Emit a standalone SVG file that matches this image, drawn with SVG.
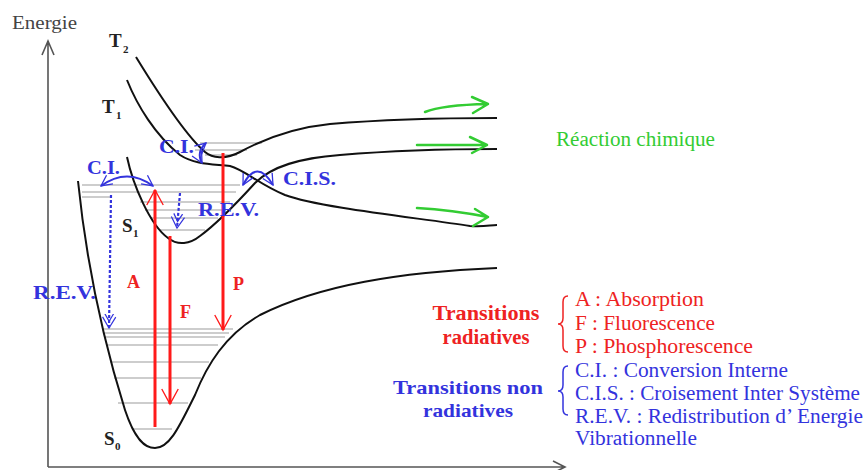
<svg xmlns="http://www.w3.org/2000/svg" width="868" height="470" viewBox="0 0 868 470">
<style>
.axis{fill:none;stroke:#555;stroke-width:1.6}
.curve{fill:none;stroke:#111;stroke-width:2}
.lvl{stroke:#bdbdbd;stroke-width:1.5}
.red{fill:none;stroke:#ff1a1a;stroke-width:3}
.blue{fill:none;stroke:#3333dd;stroke-width:2}
.bdash{fill:none;stroke:#3333dd;stroke-width:2.2;stroke-dasharray:3 2}
.green{fill:none;stroke:#33cc33;stroke-width:2.5;stroke-linecap:round;stroke-linejoin:round}
.t{font-family:"Liberation Serif","Times New Roman",serif}
.st{font-family:"Liberation Serif","Times New Roman",serif;font-weight:bold;fill:#222}
.rl{font-family:"Liberation Serif","Times New Roman",serif;font-weight:bold;fill:#ee2222}
.bl{font-family:"Liberation Serif","Times New Roman",serif;font-weight:bold;fill:#3333dd}
.rt{font-family:"Liberation Serif","Times New Roman",serif;fill:#ee2222;font-size:20px}
.btx{font-family:"Liberation Serif","Times New Roman",serif;fill:#3333dd;font-size:20px}
</style>
<defs>
<marker id="rh" viewBox="0 0 12 12" refX="11" refY="6" markerWidth="6" markerHeight="6" orient="auto" markerUnits="strokeWidth"><path d="M1,0.5 L11,6 L1,11.5" fill="none" stroke="#ff1a1a" stroke-width="0.9"/></marker>
<marker id="bh" viewBox="0 0 12 12" refX="11" refY="6" markerWidth="6.5" markerHeight="6.5" orient="auto-start-reverse" markerUnits="strokeWidth"><path d="M1,1 L11,6 L1,11" fill="none" stroke="#3333dd" stroke-width="1.2"/></marker>
<marker id="bdh" viewBox="0 0 14 14" refX="13" refY="7" markerWidth="7" markerHeight="7" orient="auto" markerUnits="strokeWidth"><path d="M3,1 L13,7 L3,13 M0,3 L7,7 L0,11" fill="none" stroke="#3333dd" stroke-width="1.1"/></marker>
</defs>

<g id="axes">
<path class="axis" d="M48,467 L48,41 M42,55 L48,41 L54,55"/>
<path class="axis" d="M48,467 L565,467 M553,461 L565,467 L553,473"/>
<text class="t" x="12" y="29" font-size="18" fill="#444" textLength="65" lengthAdjust="spacingAndGlyphs">Energie</text>
</g>

<g id="levels">
<line class="lvl" x1="103" y1="329" x2="233" y2="329"/>
<line class="lvl" x1="104" y1="333" x2="229" y2="333"/>
<line class="lvl" x1="105" y1="337" x2="225" y2="337"/>
<line class="lvl" x1="107" y1="345" x2="218" y2="345"/>
<line class="lvl" x1="110" y1="362" x2="209" y2="362"/>
<line class="lvl" x1="114" y1="378" x2="201" y2="378"/>
<line class="lvl" x1="118" y1="403" x2="188" y2="403"/>
<line class="lvl" x1="133" y1="429" x2="172" y2="429"/>
<line class="lvl" x1="82" y1="185" x2="240" y2="185"/>
<line class="lvl" x1="82" y1="192" x2="236" y2="192"/>
<line class="lvl" x1="82" y1="197" x2="112" y2="197"/>
<line class="lvl" x1="140" y1="202" x2="230" y2="202"/>
<line class="lvl" x1="145" y1="210" x2="225" y2="210"/>
<line class="lvl" x1="150" y1="218" x2="218" y2="218"/>
<line class="lvl" x1="160" y1="230" x2="205" y2="230"/>
<line class="lvl" x1="200" y1="143" x2="262" y2="143"/>
<line class="lvl" x1="195" y1="150" x2="247" y2="150"/>
<line class="lvl" x1="205" y1="155" x2="237" y2="155"/>
</g>

<g id="S0">
<path class="curve" d="M78,181 C85,250 100,330 125,410 C135,440 145,448 155,448 C170,448 180,425 195,395 C207,365 225,335 260,315 C320,285 400,272 497,268"/>
<text class="st" x="104" y="445" font-size="19">S</text><text class="st" x="115" y="450" font-size="11">0</text>
</g>
<g id="S1">
<path class="curve" d="M127,157 C133,185 150,225 168,238 C178,246 190,244 200,236 C215,225 235,205 255,183 C272,166 300,158 340,155 C400,150 450,149 497,149"/>
<text class="st" x="122" y="232" font-size="19">S</text><text class="st" x="133" y="237" font-size="11">1</text>
</g>
<g id="T1">
<path class="curve" d="M127,80 C137,105 155,135 180,155 C195,165 215,164 230,166 C245,170 260,185 285,195 C320,208 420,218 470,226 C485,227 490,225 497,225"/>
<text class="st" x="102" y="113" font-size="19">T</text><text class="st" x="116" y="119" font-size="11">1</text>
</g>
<g id="T2">
<path class="curve" d="M136,57 C155,88 185,135 205,152 C212,158 225,160 240,152 C262,140 290,128 330,124 C390,119 440,118 497,118"/>
<text class="st" x="109" y="47" font-size="19">T</text><text class="st" x="123" y="53" font-size="11">2</text>
</g>

<g id="connectors">
<path class="red" d="M155,427 L155,190" marker-end="url(#rh)"/>
<path class="red" d="M170,236 L170,404" marker-end="url(#rh)"/>
<path class="red" d="M223,153 L223,330" marker-end="url(#rh)"/>
<path class="blue" d="M101,186 Q127,167 153,186" marker-start="url(#bh)" marker-end="url(#bh)"/>
<path class="blue" d="M206,143 Q196,152 202,163" marker-start="url(#bh)" marker-end="url(#bh)"/>
<path class="blue" d="M243,185 Q257,158 273,185" marker-start="url(#bh)" marker-end="url(#bh)"/>
<path class="bdash" d="M111,195 L109,328" marker-end="url(#bdh)"/>
<path class="bdash" d="M180,193 L177,228" marker-end="url(#bdh)"/>
<path class="green" d="M425,112 Q442,105 488,104 M472,97 L488,104 L473,113"/>
<path class="green" d="M417,145 L487,145 M470,137 L487,145 L472,153"/>
<path class="green" d="M417,208 Q452,210 488,217 M475,209 L488,217 L473,226"/>
</g>

<g id="labels">
<text class="rl" x="127" y="288" font-size="18">A</text>
<text class="rl" x="180" y="318" font-size="18">F</text>
<text class="rl" x="233" y="290" font-size="18">P</text>
<text class="bl" x="87" y="174" font-size="18" textLength="33" lengthAdjust="spacingAndGlyphs">C.I.</text>
<text class="bl" x="159" y="153" font-size="18" textLength="35" lengthAdjust="spacingAndGlyphs">C.I.</text>
<text class="bl" x="283" y="185" font-size="18" textLength="53" lengthAdjust="spacingAndGlyphs">C.I.S.</text>
<text class="bl" x="198" y="216" font-size="18" textLength="61" lengthAdjust="spacingAndGlyphs">R.E.V.</text>
<text class="bl" x="33" y="299" font-size="18" textLength="63" lengthAdjust="spacingAndGlyphs">R.E.V.</text>
<text class="t" x="556" y="146" font-size="20" fill="#33cc33" textLength="159" lengthAdjust="spacingAndGlyphs">Réaction chimique</text>
</g>

<g id="legend-radiative">
<text class="rl" x="486" y="320" font-size="20" text-anchor="middle" textLength="107" lengthAdjust="spacingAndGlyphs">Transitions</text>
<text class="rl" x="486" y="344" font-size="20" text-anchor="middle" textLength="87" lengthAdjust="spacingAndGlyphs">radiatives</text>
<path d="M568,296 Q563,296 563,302 L563,318 Q563,324 558,324 Q563,324 563,330 L563,346 Q563,352 568,352" fill="none" stroke="#ee2222" stroke-width="1.5"/>
<text class="rt" x="575" y="306" textLength="129" lengthAdjust="spacingAndGlyphs">A : Absorption</text>
<text class="rt" x="575" y="330" textLength="140" lengthAdjust="spacingAndGlyphs">F : Fluorescence</text>
<text class="rt" x="575" y="353" textLength="178" lengthAdjust="spacingAndGlyphs">P : Phosphorescence</text>
</g>
<g id="legend-nonradiative">
<text class="bl" x="468" y="394" font-size="19" text-anchor="middle" textLength="150" lengthAdjust="spacingAndGlyphs">Transitions non</text>
<text class="bl" x="468" y="417" font-size="19" text-anchor="middle" textLength="90" lengthAdjust="spacingAndGlyphs">radiatives</text>
<path d="M568,366 Q563,366 563,372 L563,385 Q563,391 558,391 Q563,391 563,397 L563,409 Q563,415 568,415" fill="none" stroke="#3333dd" stroke-width="1.5"/>
<text class="btx" x="575" y="377" textLength="213" lengthAdjust="spacingAndGlyphs">C.I. : Conversion Interne</text>
<text class="btx" x="575" y="400" textLength="285" lengthAdjust="spacingAndGlyphs">C.I.S. : Croisement Inter Système</text>
<text class="btx" x="575" y="423" textLength="288" lengthAdjust="spacingAndGlyphs">R.E.V. : Redistribution d’ Energie</text>
<text class="btx" x="575" y="445" textLength="122" lengthAdjust="spacingAndGlyphs">Vibrationnelle</text>
</g>
</svg>
